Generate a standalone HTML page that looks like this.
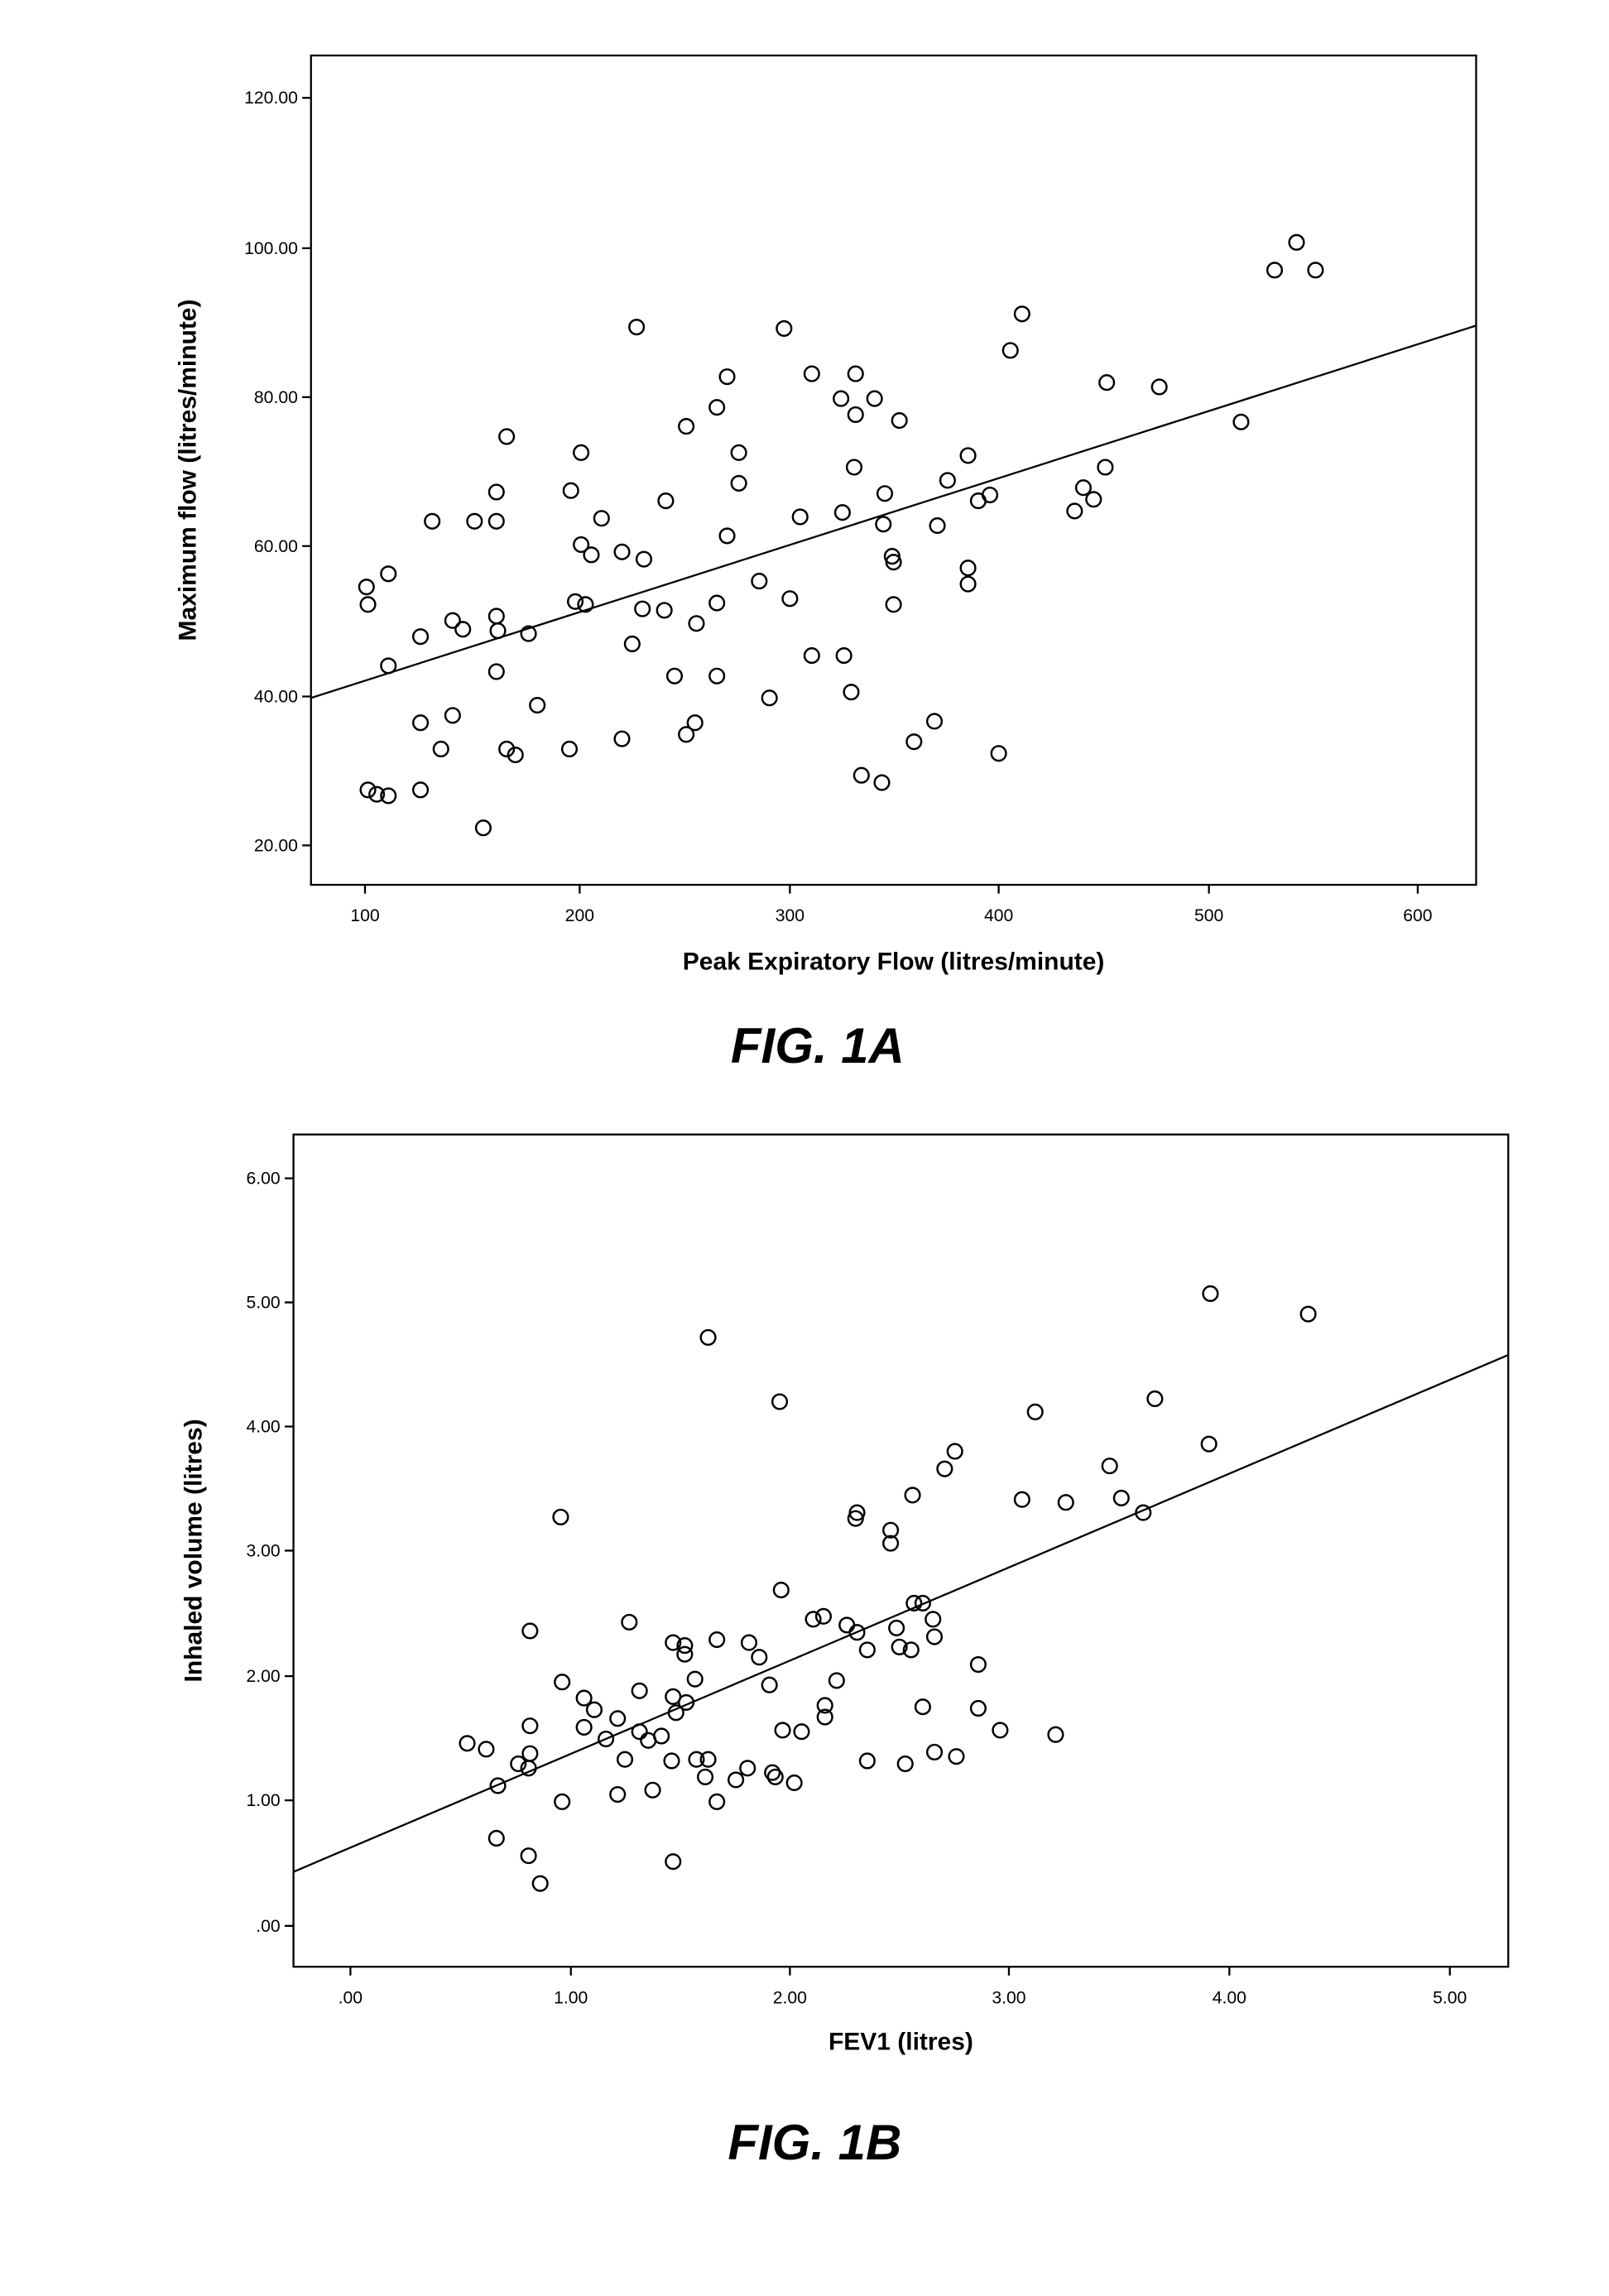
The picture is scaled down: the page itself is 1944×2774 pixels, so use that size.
<!DOCTYPE html>
<html><head><meta charset="utf-8"><style>html,body{margin:0;padding:0;background:#fff}svg{display:block}</style></head>
<body>
<svg width="1944" height="2774" viewBox="0 0 1102 1572.5" xmlns="http://www.w3.org/2000/svg" font-family="Liberation Sans, sans-serif">
<rect width="1102" height="1573" fill="#fff"/>
<g fill="none" stroke="#000" stroke-width="1.3">
<rect x="213" y="38" width="798" height="568"/>
<path d="M207 67h6M207 170h6M207 272h6M207 374h6M207 477h6M207 579h6"/>
<path d="M250 606v6M397 606v6M541 606v6M684 606v6M828 606v6M971 606v6"/>
<line x1="213" y1="478" x2="1011" y2="223"/>
<rect x="201" y="777" width="832" height="570"/>
<path d="M195 807h6M195 892h6M195 977h6M195 1062h6M195 1148h6M195 1233h6M195 1319h6"/>
<path d="M240 1347v6M391 1347v6M541 1347v6M691 1347v6M842 1347v6M993 1347v6"/>
<line x1="201" y1="1282" x2="1033" y2="928"/>
</g>
<g font-size="12" text-anchor="end">
<text x="204" y="71">120.00</text><text x="204" y="174">100.00</text><text x="204" y="276">80.00</text><text x="204" y="378">60.00</text><text x="204" y="481">40.00</text><text x="204" y="583">20.00</text>
<text x="192" y="811">6.00</text><text x="192" y="896">5.00</text><text x="192" y="981">4.00</text><text x="192" y="1066">3.00</text><text x="192" y="1152">2.00</text><text x="192" y="1237">1.00</text><text x="192" y="1323">.00</text>
</g>
<g font-size="12" text-anchor="middle">
<text x="250" y="631">100</text><text x="397" y="631">200</text><text x="541" y="631">300</text><text x="684" y="631">400</text><text x="828" y="631">500</text><text x="971" y="631">600</text>
<text x="240" y="1372">.00</text><text x="391" y="1372">1.00</text><text x="541" y="1372">2.00</text><text x="691" y="1372">3.00</text><text x="842" y="1372">4.00</text><text x="993" y="1372">5.00</text>
</g>
<g font-size="17" font-weight="bold" text-anchor="middle">
<text x="612" y="664">Peak Expiratory Flow (litres/minute)</text>
<text transform="translate(134,322) rotate(-90)">Maximum flow (litres/minute)</text>
<text x="617" y="1404">FEV1 (litres)</text>
<text transform="translate(138,1062) rotate(-90)">Inhaled volume (litres)</text>
</g>
<g font-size="34" font-weight="bold" font-style="italic" text-anchor="middle">
<text x="560" y="728">FIG. 1A</text>
<text x="558" y="1479">FIG. 1B</text>
</g>
<g fill="none" stroke="#000" stroke-width="1.4">
<g id="a">
<circle cx="251" cy="402" r="5"/><circle cx="252" cy="414" r="5"/><circle cx="252" cy="541" r="5"/><circle cx="258" cy="544" r="5"/><circle cx="266" cy="545" r="5"/><circle cx="266" cy="393" r="5"/><circle cx="266" cy="456" r="5"/><circle cx="288" cy="436" r="5"/><circle cx="288" cy="495" r="5"/><circle cx="288" cy="541" r="5"/><circle cx="296" cy="357" r="5"/><circle cx="302" cy="513" r="5"/><circle cx="310" cy="425" r="5"/><circle cx="310" cy="490" r="5"/><circle cx="317" cy="431" r="5"/><circle cx="325" cy="357" r="5"/><circle cx="340" cy="422" r="5"/><circle cx="340" cy="337" r="5"/><circle cx="340" cy="357" r="5"/><circle cx="341" cy="432" r="5"/><circle cx="340" cy="460" r="5"/><circle cx="347" cy="299" r="5"/><circle cx="347" cy="513" r="5"/><circle cx="353" cy="517" r="5"/><circle cx="362" cy="434" r="5"/><circle cx="368" cy="483" r="5"/><circle cx="331" cy="567" r="5"/><circle cx="391" cy="336" r="5"/><circle cx="390" cy="513" r="5"/><circle cx="394" cy="412" r="5"/><circle cx="398" cy="310" r="5"/><circle cx="398" cy="373" r="5"/><circle cx="401" cy="414" r="5"/><circle cx="405" cy="380" r="5"/><circle cx="412" cy="355" r="5"/><circle cx="426" cy="378" r="5"/><circle cx="426" cy="506" r="5"/><circle cx="433" cy="441" r="5"/><circle cx="436" cy="224" r="5"/><circle cx="441" cy="383" r="5"/><circle cx="440" cy="417" r="5"/><circle cx="455" cy="418" r="5"/><circle cx="456" cy="343" r="5"/><circle cx="462" cy="463" r="5"/><circle cx="470" cy="503" r="5"/><circle cx="470" cy="292" r="5"/><circle cx="476" cy="495" r="5"/><circle cx="477" cy="427" r="5"/><circle cx="491" cy="279" r="5"/><circle cx="491" cy="413" r="5"/><circle cx="491" cy="463" r="5"/><circle cx="498" cy="367" r="5"/><circle cx="498" cy="258" r="5"/><circle cx="506" cy="310" r="5"/><circle cx="506" cy="331" r="5"/><circle cx="520" cy="398" r="5"/><circle cx="527" cy="478" r="5"/><circle cx="537" cy="225" r="5"/><circle cx="541" cy="410" r="5"/><circle cx="548" cy="354" r="5"/><circle cx="556" cy="256" r="5"/><circle cx="556" cy="449" r="5"/><circle cx="576" cy="273" r="5"/><circle cx="577" cy="351" r="5"/><circle cx="578" cy="449" r="5"/><circle cx="583" cy="474" r="5"/><circle cx="585" cy="320" r="5"/><circle cx="586" cy="256" r="5"/><circle cx="586" cy="284" r="5"/><circle cx="590" cy="531" r="5"/><circle cx="599" cy="273" r="5"/><circle cx="604" cy="536" r="5"/><circle cx="605" cy="359" r="5"/><circle cx="606" cy="338" r="5"/><circle cx="611" cy="381" r="5"/><circle cx="612" cy="385" r="5"/><circle cx="612" cy="414" r="5"/><circle cx="616" cy="288" r="5"/><circle cx="626" cy="508" r="5"/><circle cx="640" cy="494" r="5"/><circle cx="642" cy="360" r="5"/><circle cx="649" cy="329" r="5"/><circle cx="663" cy="312" r="5"/><circle cx="663" cy="389" r="5"/><circle cx="663" cy="400" r="5"/><circle cx="670" cy="343" r="5"/><circle cx="678" cy="339" r="5"/><circle cx="684" cy="516" r="5"/><circle cx="692" cy="240" r="5"/><circle cx="700" cy="215" r="5"/><circle cx="736" cy="350" r="5"/><circle cx="742" cy="334" r="5"/><circle cx="749" cy="342" r="5"/><circle cx="758" cy="262" r="5"/><circle cx="757" cy="320" r="5"/><circle cx="794" cy="265" r="5"/><circle cx="850" cy="289" r="5"/><circle cx="873" cy="185" r="5"/><circle cx="888" cy="166" r="5"/><circle cx="901" cy="185" r="5"/>
</g>
<g>
<circle cx="320" cy="1194" r="5"/><circle cx="333" cy="1198" r="5"/><circle cx="340" cy="1259" r="5"/><circle cx="341" cy="1223" r="5"/><circle cx="355" cy="1208" r="5"/><circle cx="362" cy="1211" r="5"/><circle cx="362" cy="1271" r="5"/><circle cx="363" cy="1201" r="5"/><circle cx="363" cy="1182" r="5"/><circle cx="363" cy="1117" r="5"/><circle cx="370" cy="1290" r="5"/><circle cx="384" cy="1039" r="5"/><circle cx="385" cy="1152" r="5"/><circle cx="385" cy="1234" r="5"/><circle cx="400" cy="1163" r="5"/><circle cx="400" cy="1183" r="5"/><circle cx="407" cy="1171" r="5"/><circle cx="415" cy="1191" r="5"/><circle cx="423" cy="1229" r="5"/><circle cx="423" cy="1177" r="5"/><circle cx="428" cy="1205" r="5"/><circle cx="431" cy="1111" r="5"/><circle cx="438" cy="1186" r="5"/><circle cx="438" cy="1158" r="5"/><circle cx="444" cy="1192" r="5"/><circle cx="447" cy="1226" r="5"/><circle cx="453" cy="1189" r="5"/><circle cx="461" cy="1125" r="5"/><circle cx="461" cy="1275" r="5"/><circle cx="460" cy="1206" r="5"/><circle cx="461" cy="1162" r="5"/><circle cx="463" cy="1173" r="5"/><circle cx="469" cy="1127" r="5"/><circle cx="469" cy="1133" r="5"/><circle cx="470" cy="1166" r="5"/><circle cx="476" cy="1150" r="5"/><circle cx="477" cy="1205" r="5"/><circle cx="483" cy="1217" r="5"/><circle cx="485" cy="916" r="5"/><circle cx="485" cy="1205" r="5"/><circle cx="491" cy="1234" r="5"/><circle cx="491" cy="1123" r="5"/><circle cx="504" cy="1219" r="5"/><circle cx="512" cy="1211" r="5"/><circle cx="513" cy="1125" r="5"/><circle cx="520" cy="1135" r="5"/><circle cx="527" cy="1154" r="5"/><circle cx="529" cy="1214" r="5"/><circle cx="531" cy="1217" r="5"/><circle cx="536" cy="1185" r="5"/><circle cx="534" cy="960" r="5"/><circle cx="535" cy="1089" r="5"/><circle cx="544" cy="1221" r="5"/><circle cx="549" cy="1186" r="5"/><circle cx="557" cy="1109" r="5"/><circle cx="564" cy="1107" r="5"/><circle cx="565" cy="1168" r="5"/><circle cx="565" cy="1176" r="5"/><circle cx="573" cy="1151" r="5"/><circle cx="580" cy="1113" r="5"/><circle cx="586" cy="1040" r="5"/><circle cx="587" cy="1036" r="5"/><circle cx="587" cy="1118" r="5"/><circle cx="594" cy="1130" r="5"/><circle cx="594" cy="1206" r="5"/><circle cx="610" cy="1048" r="5"/><circle cx="610" cy="1057" r="5"/><circle cx="614" cy="1115" r="5"/><circle cx="616" cy="1128" r="5"/><circle cx="620" cy="1208" r="5"/><circle cx="624" cy="1130" r="5"/><circle cx="625" cy="1024" r="5"/><circle cx="626" cy="1098" r="5"/><circle cx="632" cy="1098" r="5"/><circle cx="632" cy="1169" r="5"/><circle cx="639" cy="1109" r="5"/><circle cx="640" cy="1121" r="5"/><circle cx="640" cy="1200" r="5"/><circle cx="647" cy="1006" r="5"/><circle cx="654" cy="994" r="5"/><circle cx="655" cy="1203" r="5"/><circle cx="670" cy="1140" r="5"/><circle cx="670" cy="1170" r="5"/><circle cx="685" cy="1185" r="5"/><circle cx="700" cy="1027" r="5"/><circle cx="709" cy="967" r="5"/><circle cx="730" cy="1029" r="5"/><circle cx="760" cy="1004" r="5"/><circle cx="768" cy="1026" r="5"/><circle cx="783" cy="1036" r="5"/><circle cx="791" cy="958" r="5"/><circle cx="828" cy="989" r="5"/><circle cx="829" cy="886" r="5"/><circle cx="896" cy="900" r="5"/><circle cx="723" cy="1188" r="5"/>
</g>
</g>
</svg>
</body></html>
